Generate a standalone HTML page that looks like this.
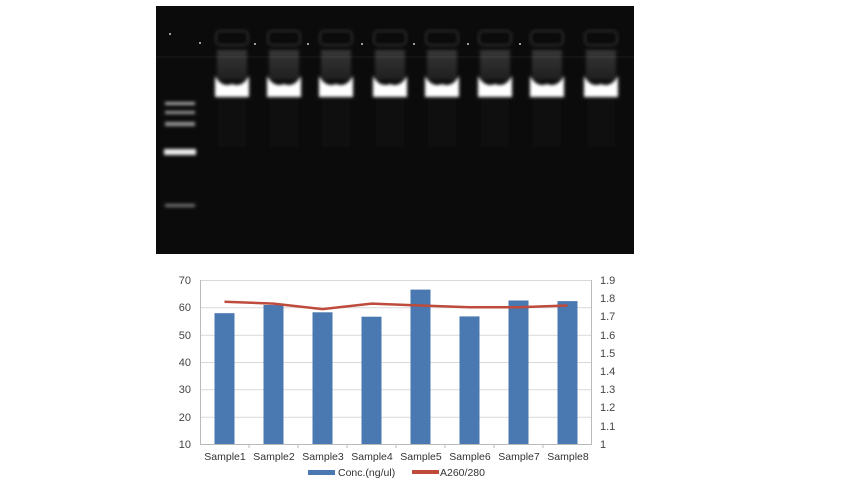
<!DOCTYPE html>
<html><head><style>
body{margin:0;background:#fff;width:850px;height:487px;overflow:hidden;font-family:"Liberation Sans",sans-serif}
</style></head><body>
<svg width="850" height="487" xmlns="http://www.w3.org/2000/svg" font-family="Liberation Sans, sans-serif">
<defs>
<filter id="b1" x="-50%" y="-50%" width="200%" height="200%"><feGaussianBlur stdDeviation="1.5"/></filter>
<linearGradient id="smear" x1="0" y1="0" x2="0" y2="1"><stop offset="0" stop-color="#fff" stop-opacity="0.18"/><stop offset="1" stop-color="#fff" stop-opacity="0.08"/></linearGradient>
</defs>
<rect x="156" y="6" width="478" height="248" fill="#0b0b0b"/>
<line x1="156" y1="57" x2="634" y2="57" stroke="#1c1c1c" stroke-width="1"/>
<g filter="url(#b1)">
<rect x="165" y="102" width="30" height="3" fill="#aaa"/>
<rect x="165" y="111" width="30" height="3" fill="#999"/>
<rect x="165" y="122" width="30" height="4" fill="#999"/>
<rect x="164" y="149" width="32" height="6" fill="#eee"/>
<rect x="165" y="204" width="30" height="3" fill="#777"/>
</g>
<g id="lanes">
<g transform="translate(232,0)">
<rect x="-16" y="31" width="32" height="14" rx="4" fill="none" stroke="#2a2a2a" stroke-width="2" filter="url(#b1)"/>
<rect x="-15" y="50" width="30" height="30" fill="url(#smear)" filter="url(#b1)"/>
<path d="M-17 76 Q-10 88 0 84 Q10 88 17 76 L17 97 L-17 97Z" fill="#fff" filter="url(#b1)"/>
<rect x="-14" y="97" width="28" height="50" fill="#fff" opacity="0.02"/>
</g>
</g>
<use href="#lanes" transform="translate(52,0)"/>
<use href="#lanes" transform="translate(104,0)"/>
<use href="#lanes" transform="translate(158,0)"/>
<use href="#lanes" transform="translate(210,0)"/>
<use href="#lanes" transform="translate(263,0)"/>
<use href="#lanes" transform="translate(315,0)"/>
<use href="#lanes" transform="translate(369,0)"/>
<g fill="#ccc"><circle cx="170" cy="34" r="1"/><circle cx="200" cy="43" r="1"/><circle cx="255" cy="44" r="1"/><circle cx="308" cy="44" r="1"/><circle cx="362" cy="44" r="1"/><circle cx="414" cy="44" r="1"/><circle cx="468" cy="44" r="1"/><circle cx="520" cy="44" r="1"/></g>

<g stroke="#d9d9d9" stroke-width="1">
<line x1="200" y1="280.5" x2="592" y2="280.5"/><line x1="200" y1="307.8" x2="592" y2="307.8"/><line x1="200" y1="335.2" x2="592" y2="335.2"/><line x1="200" y1="362.5" x2="592" y2="362.5"/><line x1="200" y1="389.8" x2="592" y2="389.8"/><line x1="200" y1="417.2" x2="592" y2="417.2"/>
</g>
<line x1="200.5" y1="280" x2="200.5" y2="444" stroke="#bbb"/>
<line x1="591.5" y1="280" x2="591.5" y2="444" stroke="#bbb"/>
<line x1="200" y1="444.5" x2="592" y2="444.5" stroke="#bbb"/>
<g stroke="#bbb"><line x1="249" y1="444" x2="249" y2="448"/><line x1="298" y1="444" x2="298" y2="448"/><line x1="347" y1="444" x2="347" y2="448"/><line x1="396" y1="444" x2="396" y2="448"/><line x1="445" y1="444" x2="445" y2="448"/><line x1="494" y1="444" x2="494" y2="448"/><line x1="543" y1="444" x2="543" y2="448"/></g>
<g fill="#4a78b0">
<rect x="214.5" y="313.2" width="20" height="130.8"/>
<rect x="263.5" y="305.0" width="20" height="139"/>
<rect x="312.5" y="312.3" width="20" height="131.7"/>
<rect x="361.5" y="316.7" width="20" height="127.3"/>
<rect x="410.5" y="289.6" width="20" height="154.4"/>
<rect x="459.5" y="316.4" width="20" height="127.6"/>
<rect x="508.5" y="300.5" width="20" height="143.5"/>
<rect x="557.5" y="301.1" width="20" height="142.9"/>
</g>
<polyline fill="none" stroke="#be4b3c" stroke-width="2.5" points="224.5,301.8 273.5,303.6 322.5,309.1 371.5,303.6 420.5,305.5 469.5,307.3 518.5,307.3 567.5,305.5"/>
<g font-size="11" fill="#444" text-anchor="end">
<text x="191" y="284">70</text><text x="191" y="311">60</text><text x="191" y="339">50</text><text x="191" y="366">40</text><text x="191" y="393">30</text><text x="191" y="421">20</text><text x="191" y="448">10</text>
</g>
<g font-size="11" fill="#444">
<text x="600" y="284">1.9</text><text x="600" y="302">1.8</text><text x="600" y="320">1.7</text><text x="600" y="339">1.6</text><text x="600" y="357">1.5</text><text x="600" y="375">1.4</text><text x="600" y="393">1.3</text><text x="600" y="411">1.2</text><text x="600" y="430">1.1</text><text x="600" y="448">1</text>
</g>
<g font-size="10.5" fill="#333" text-anchor="middle">
<text x="225" y="460">Sample1</text><text x="274" y="460">Sample2</text><text x="323" y="460">Sample3</text><text x="372" y="460">Sample4</text><text x="421" y="460">Sample5</text><text x="470" y="460">Sample6</text><text x="519" y="460">Sample7</text><text x="568" y="460">Sample8</text>
</g>
<rect x="308" y="470" width="27" height="5" fill="#4a78b0"/>
<text x="338" y="476" font-size="10.5" fill="#333">Conc.(ng/ul)</text>
<rect x="412" y="470" width="27" height="4" fill="#be4b3c"/>
<text x="440" y="476" font-size="10.5" fill="#333">A260/280</text>
</svg>
</body></html>
